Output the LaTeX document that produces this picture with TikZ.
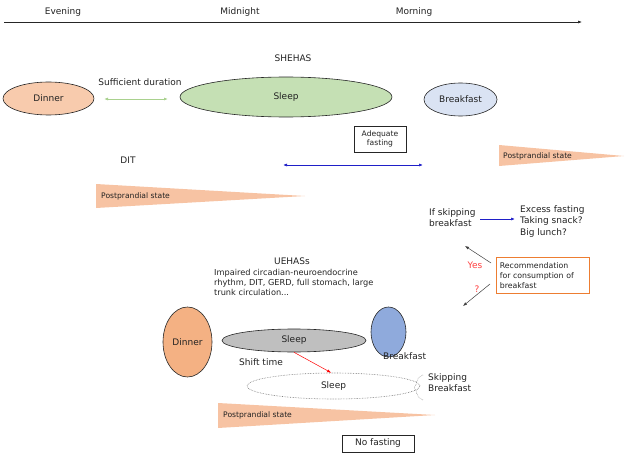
\documentclass[tikz,border=0pt]{standalone}
\usepackage{fontspec}
\setmainfont{DejaVu Sans}
\usetikzlibrary{shapes.geometric,arrows.meta}
\definecolor{peachL}{HTML}{F8CBAD}
\definecolor{peachD}{HTML}{F4B183}
\definecolor{greenL}{HTML}{C5E0B4}
\definecolor{greenA}{HTML}{A9D18E}
\definecolor{blueL}{HTML}{DAE3F3}
\definecolor{blueD}{HTML}{8FAADC}
\definecolor{grayS}{HTML}{BFBFBF}
\definecolor{arrBlue}{HTML}{1F1FC8}
\definecolor{recOr}{HTML}{ED7D31}
\definecolor{txt}{HTML}{222222}
\definecolor{tri}{HTML}{F7C3A3}
\tikzset{
  lbl/.style={font=\fontsize{9}{11.8}\selectfont, text=txt, inner sep=0pt},
  sml/.style={font=\fontsize{7.6}{9.6}\selectfont, text=txt, inner sep=0pt},
  mid/.style={font=\fontsize{8.2}{10.2}\selectfont, text=txt, inner sep=0pt},
  ell/.style={ellipse, draw=black!85, line width=0.6pt, inner sep=0pt, font=\fontsize{9}{10.5}\selectfont, text=txt},
  tip/.style={-{Latex[length=4pt,width=3pt]}},
  dtip/.style={{Latex[length=4pt,width=3pt]}-{Latex[length=4pt,width=3pt]}},
  boxn/.style={draw=black!85, line width=0.6pt, align=center, text=txt},
}
\begin{document}
\begin{tikzpicture}[x=1pt,y=-1pt]
\useasboundingbox (0,0) rectangle (630,460);
% time axis
\coordinate (ax0) at (4,22);
\coordinate (ax1) at (582,22);
\draw[line width=0.6pt, black!85, tip] (ax0) -- (ax1);
\node[lbl] (eve) at (63,12) {Evening};
\node[lbl] (mid) at (240,12) {Midnight};
\node[lbl] (mor) at (414,12) {Morning};

% SHEHAS
\node[lbl] (shehas) at (293,58) {SHEHAS};
\node[ell, fill=peachL, minimum width=91pt, minimum height=33pt] (dinner1) at (48.5,98.5) {Dinner};
\node[lbl] (suff) at (140,82) {Sufficient duration};
\coordinate (g0) at (104,99);
\coordinate (g1) at (168,99);
\draw[greenA, line width=0.8pt, dtip] (g0) -- (g1);
\node[ell, fill=greenL, minimum width=212pt, minimum height=40pt] (sleep1) at (286,97) {Sleep};
\node[ell, fill=blueL, minimum width=73pt, minimum height=33pt] (bf1) at (460.5,99.5) {Breakfast};
\node[boxn, sml, inner sep=0pt, minimum width=52pt, minimum height=26pt] (adeq) at (380,139) {Adequate\\fasting};
\node[lbl] (dit) at (128,160) {DIT};
\coordinate (b0) at (283,165);
\coordinate (b1) at (423,165);
\draw[arrBlue, line width=0.7pt, dtip] (b0) -- (b1);

% postprandial triangles
\fill[tri] (96,184) -- (96,208) -- (305,196) -- cycle;
\node[sml, anchor=west] (pp1) at (101,196) {Postprandial state};
\fill[tri] (499,145) -- (499,166) -- (624,156) -- cycle;
\node[sml, anchor=west] (pp2) at (503,156) {Postprandial state};

% skipping branch
\node[lbl, anchor=north west, align=left] (skip) at (429,208) {If skipping\\breakfast};
\node[lbl, anchor=north west, align=left] (excess) at (520,205) {Excess fasting\\Taking snack?\\Big lunch?};
\coordinate (s0) at (480,219);
\coordinate (s1) at (515,219);
\draw[arrBlue, line width=0.7pt, tip] (s0) -- (s1);
\node[draw=recOr, line width=0.7pt, font=\fontsize{7.8}{10}\selectfont, text=txt, align=left, anchor=north west, minimum width=93pt, minimum height=36pt, inner sep=0pt, text width=86pt] (rec) at (496,257) {Recommendation\\for consumption of\\breakfast};
\coordinate (y0) at (491,263);
\coordinate (y1) at (465,246);
\draw[black!75, line width=0.5pt, tip] (y0) -- (y1);
\node[lbl, text=red!75] (yes) at (475,265) {Yes};
\coordinate (q0) at (490,284);
\coordinate (q1) at (463,306);
\draw[black!75, line width=0.5pt, tip] (q0) -- (q1);
\node[lbl, text=red!75] (qm) at (477,289) {?};

% UEHASs
\node[lbl] (uehas) at (292,261) {UEHASs};
\node[mid, anchor=north west, align=left] (impair) at (214,269) {Impaired circadian-neuroendocrine\\rhythm, DIT, GERD, full stomach, large\\trunk circulation...};
\node[ell, fill=peachD, minimum width=49pt, minimum height=70pt] (dinner2) at (187.5,342) {Dinner};
\node[ell, fill=grayS, minimum width=144pt, minimum height=23pt] (sleep2) at (294,340.5) {Sleep};
\node[ell, fill=blueD, minimum width=35pt, minimum height=50pt] (bf2) at (388.5,332) {};
\node[lbl, anchor=west] (bf2l) at (383,356) {Breakfast};
\node[lbl] (shift) at (261,362) {Shift time};
\node[ell, draw=black!55, densely dotted, minimum width=173pt, minimum height=26pt] (sleep3) at (333.5,386) {Sleep};
\draw[red, line width=0.5pt, tip] (sleep2.south) -- (sleep3.100);
\draw[black!55, densely dotted, line width=0.5pt] (423,375) .. controls (414,379) and (418,385) .. (414,387.5) .. controls (418,390) and (414,396) .. (423,400);
\node[lbl, anchor=north west, align=left] (skip2) at (428,373) {Skipping\\Breakfast};
\fill[tri] (218,403) -- (218,428) -- (435,415) -- cycle;
\node[sml, anchor=west] (pp3) at (223,415) {Postprandial state};
\node[boxn, lbl, minimum width=72pt, minimum height=17pt] (nofast) at (378,443.5) {No fasting};
\end{tikzpicture}
\end{document}
